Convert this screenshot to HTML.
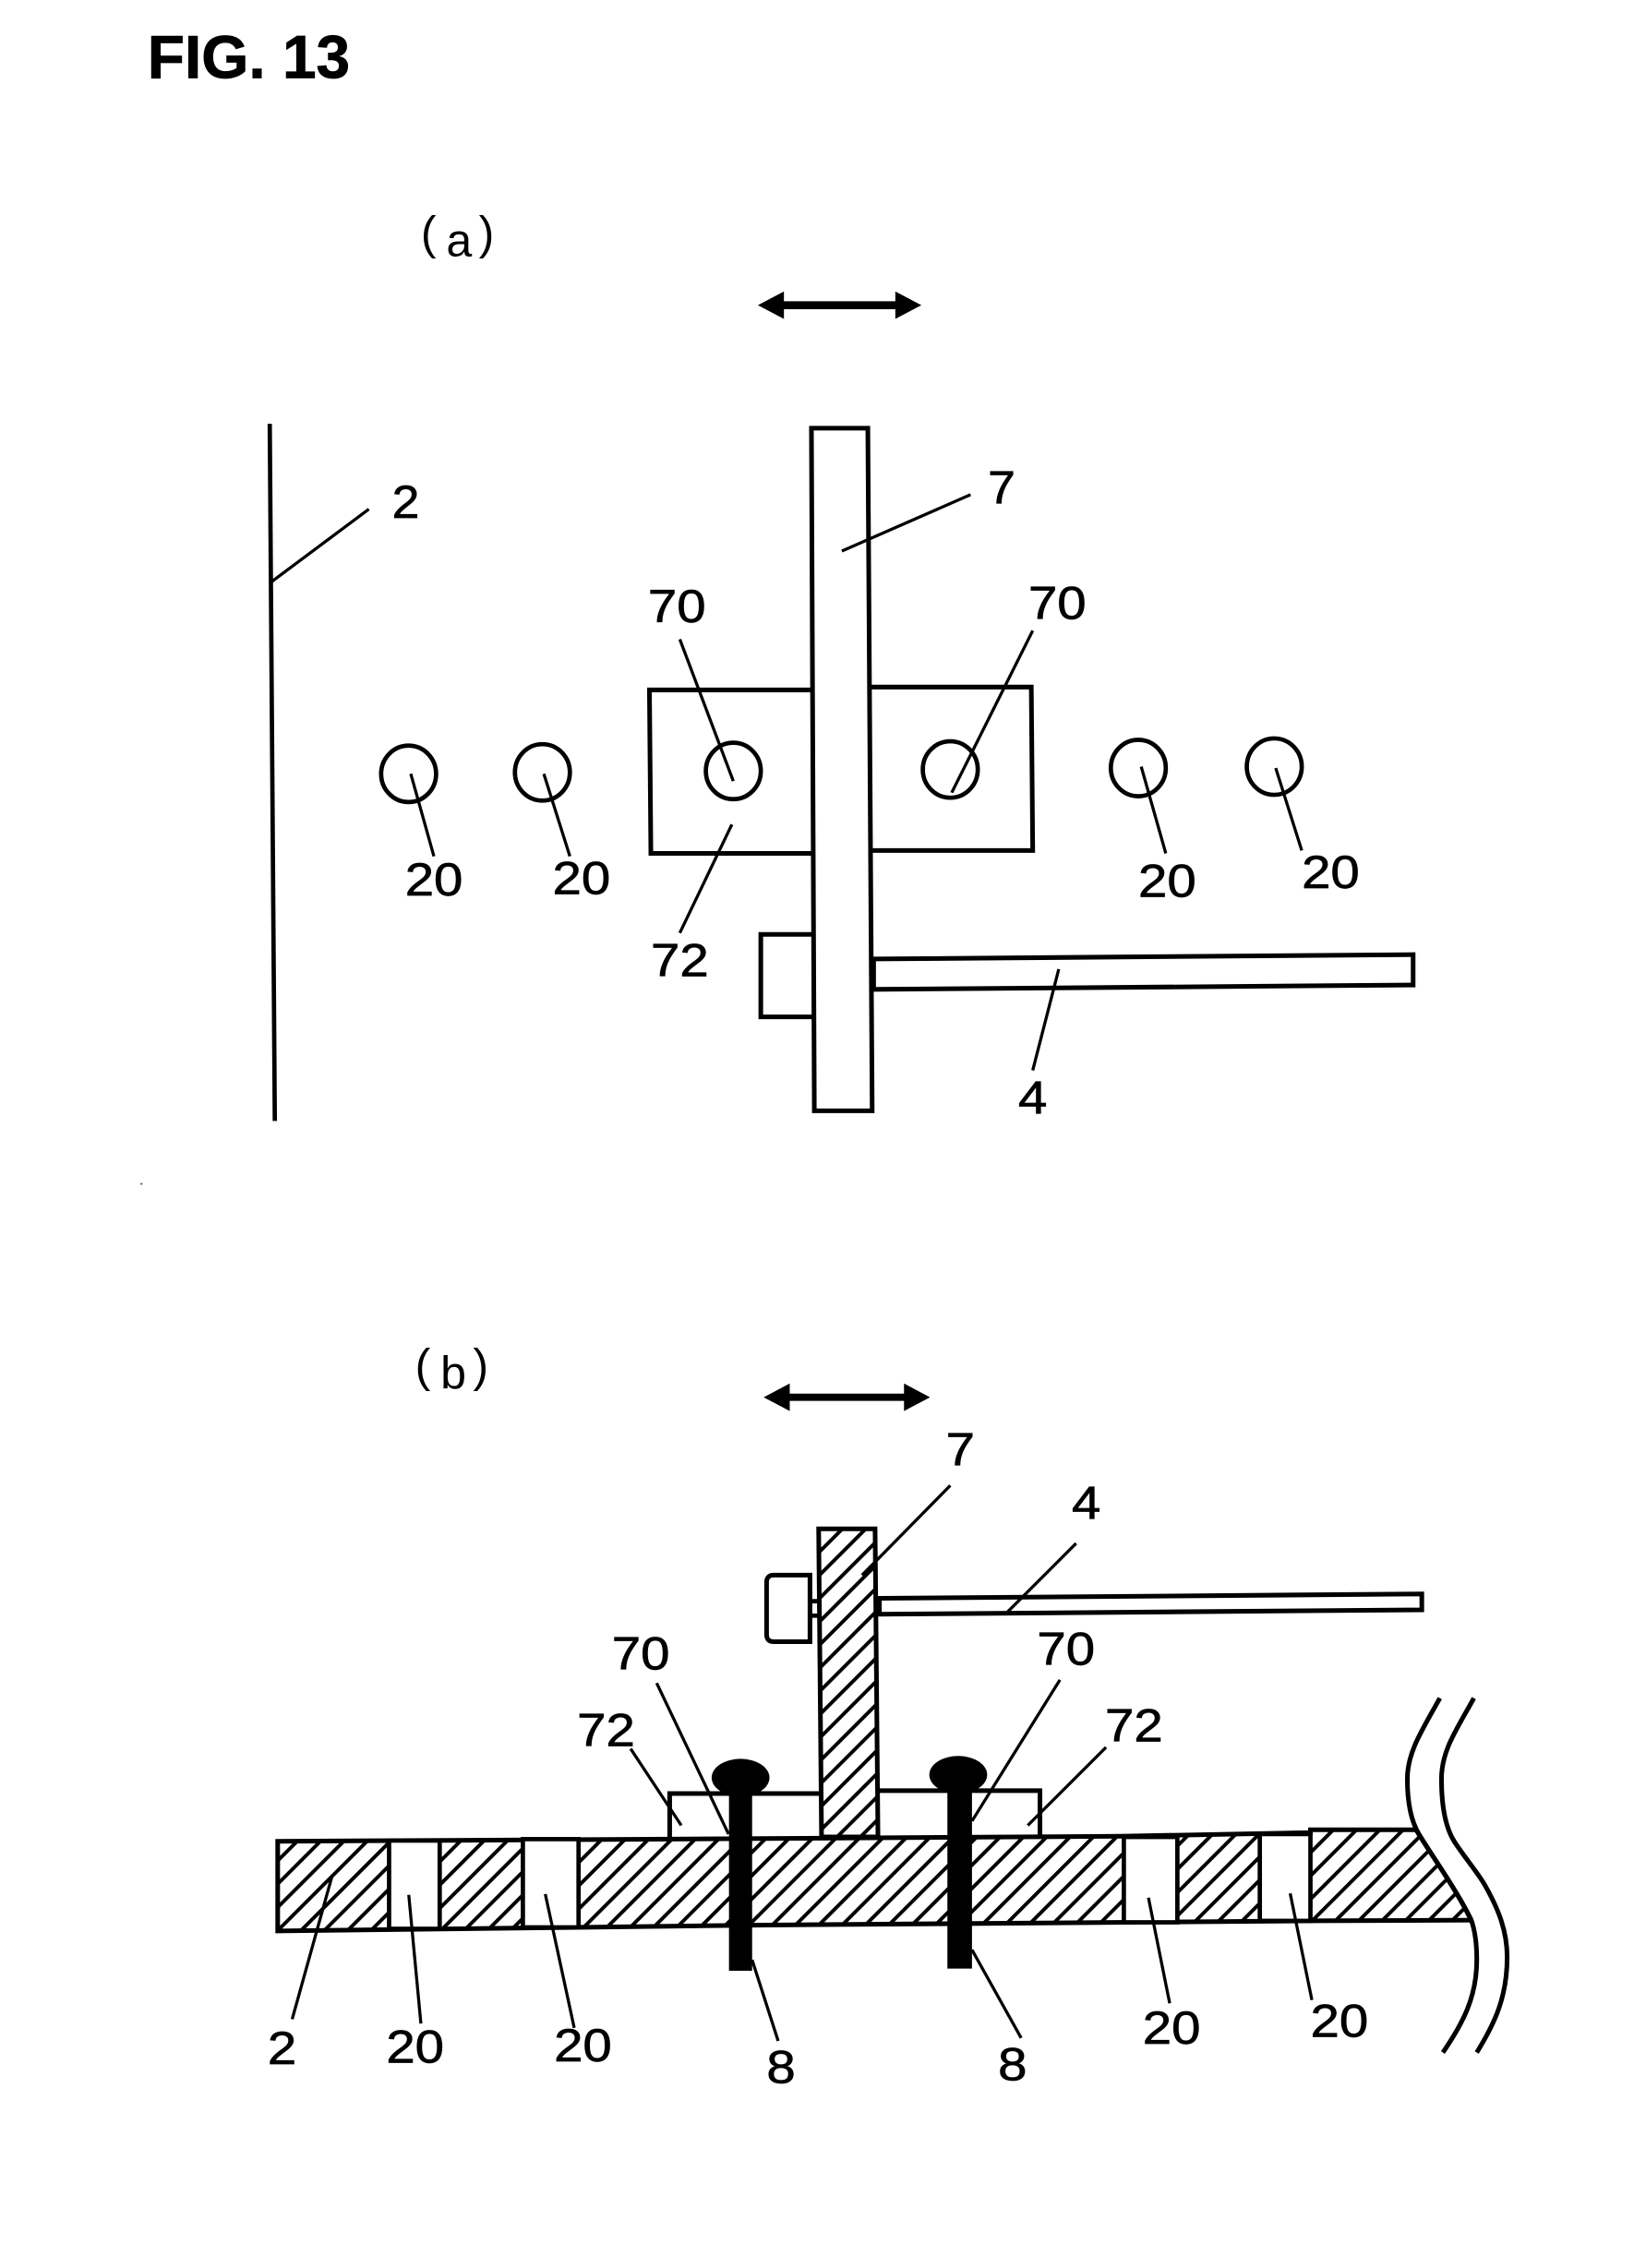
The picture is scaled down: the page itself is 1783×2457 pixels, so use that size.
<!DOCTYPE html>
<html><head><meta charset="utf-8"><style>
html,body{margin:0;padding:0;background:#fff}
svg{display:block}
text{font-family:"Liberation Sans",sans-serif;fill:#000}
.n{font-size:32px;stroke:#000;stroke-width:.45}
.l{stroke:#000;stroke-width:2.1;fill:none}
.s{stroke:#000;stroke-width:3.2;fill:#fff}
.h{stroke:#000;stroke-width:3.2;fill:url(#hatch)}
.o{stroke:#000;stroke-width:3;fill:#fff}
.wv{fill:none;stroke:#000;stroke-width:3.2}
</style></head><body>
<svg xmlns="http://www.w3.org/2000/svg" width="1783" height="2457" viewBox="0 0 1138 1568" preserveAspectRatio="none">
<defs>
<pattern id="hatch" width="11.385" height="11.385" patternUnits="userSpaceOnUse" patternTransform="rotate(45) translate(8.11 0)">
<rect width="11.385" height="11.385" fill="#fff"/>
<rect x="0" y="0" width="2.500" height="11.385" fill="#000"/>
</pattern>
</defs>
<rect width="1138" height="1568" fill="#fff"/>
<text x="102" y="54" font-size="42" font-weight="bold" textLength="140" lengthAdjust="spacingAndGlyphs" stroke="#000" stroke-width=".5">FIG. 13</text>

<!-- (a) -->
<text font-size="32"><tspan x="291" y="172">(</tspan><tspan x="308.500" y="177">a</tspan><tspan x="331" y="172">)</tspan></text>
<line x1="540" y1="211" x2="622" y2="211" stroke="#000" stroke-width="5.500"/>
<polygon points="524,211 542,201.500 542,220.500" fill="#000"/>
<polygon points="637,211 619,201.500 619,220.500" fill="#000"/>

<line x1="186.500" y1="293" x2="190" y2="775" stroke="#000" stroke-width="3"/>
<line class="l" x1="188" y1="402" x2="255" y2="352"/>

<path class="s" d="M562,477 L449,477 L450,590 L562,590"/>
<path class="s" d="M602,475 L713,475 L714,588 L603,588"/>
<path class="s" d="M562,646 L526,646 L526,703 L563,703"/>
<polygon class="s" points="604,663 977,660 977,681 604,684"/>
<polygon class="s" points="561,296 600,296 603,768 563,768"/>

<g fill="none" stroke="#000" stroke-width="3">
<ellipse cx="282.500" cy="535" rx="19" ry="19.500"/>
<ellipse cx="375" cy="534" rx="19" ry="19.500"/>
<ellipse cx="507" cy="533" rx="19" ry="19.500"/>
<ellipse cx="657" cy="532" rx="19" ry="19.500"/>
<ellipse cx="787" cy="531" rx="19" ry="19.500"/>
<ellipse cx="881" cy="530" rx="19" ry="19.500"/>
</g>
<line class="l" x1="284" y1="535" x2="300" y2="592"/>
<line class="l" x1="376" y1="535" x2="394" y2="592"/>
<line class="l" x1="789" y1="530" x2="806" y2="590"/>
<line class="l" x1="882" y1="531" x2="900" y2="588"/>
<line class="l" x1="470" y1="442" x2="507" y2="540"/>
<line class="l" x1="714" y1="436" x2="658" y2="548"/>
<line class="l" x1="506" y1="570" x2="470" y2="645"/>
<line class="l" x1="582" y1="381" x2="671" y2="342"/>
<line class="l" x1="732" y1="670" x2="714" y2="740"/>

<text class="n" x="271" y="358" textLength="19" lengthAdjust="spacingAndGlyphs">2</text>
<text class="n" x="683" y="348" textLength="19" lengthAdjust="spacingAndGlyphs">7</text>
<text class="n" x="448" y="430" textLength="40" lengthAdjust="spacingAndGlyphs">70</text>
<text class="n" x="711" y="428" textLength="40" lengthAdjust="spacingAndGlyphs">70</text>
<text class="n" x="280" y="619" textLength="40" lengthAdjust="spacingAndGlyphs">20</text>
<text class="n" x="382" y="618" textLength="40" lengthAdjust="spacingAndGlyphs">20</text>
<text class="n" x="787" y="620" textLength="40" lengthAdjust="spacingAndGlyphs">20</text>
<text class="n" x="900" y="614" textLength="40" lengthAdjust="spacingAndGlyphs">20</text>
<text class="n" x="450" y="675" textLength="40" lengthAdjust="spacingAndGlyphs">72</text>
<text class="n" x="704" y="770" textLength="20" lengthAdjust="spacingAndGlyphs">4</text>

<rect x="97" y="818" width="1.500" height="1" fill="#555"/>

<!-- (b) -->
<text font-size="32"><tspan x="287" y="955">(</tspan><tspan x="304.500" y="960">b</tspan><tspan x="327" y="955">)</tspan></text>
<line x1="544" y1="966" x2="627" y2="966" stroke="#000" stroke-width="5"/>
<polygon points="528,966 546,956.500 546,975.500" fill="#000"/>
<polygon points="643,966 625,956.500 625,975.500" fill="#000"/>

<!-- plate -->
<path class="h" d="M192,1273 L463,1271.500 L775,1269.500 L906,1267 L906,1265 L979,1265 C988,1280 1008,1308 1017,1327.500 L906,1328 L520,1331 L192,1335 Z"/>
<rect class="o" x="269" y="1272.500" width="35" height="61"/>
<rect class="o" x="361.500" y="1271.500" width="38.500" height="61"/>
<rect class="o" x="777" y="1270" width="37" height="59"/>
<rect class="o" x="871" y="1268" width="35" height="60"/>

<!-- box 72 -->
<path d="M463,1270 V1240 H568 M608,1238 H719 V1270" fill="none" stroke="#000" stroke-width="3.200"/>

<!-- member 7 -->
<polygon class="h" points="566,1057 605,1057 607,1270 568,1270"/>
<path class="s" d="M560,1089 H535 Q530,1089 530,1094 V1130 Q530,1135 535,1135 H560 Z"/>
<path d="M560,1107 H567 M560,1117 H567" stroke="#000" stroke-width="3" fill="none"/>
<polygon class="s" points="608,1105 983,1102 983,1113 608,1116"/>

<!-- screws -->
<rect x="504" y="1235" width="16" height="127.500" fill="#000"/>
<rect x="655" y="1235" width="17" height="126" fill="#000"/>
<ellipse cx="512" cy="1229" rx="20" ry="13" fill="#000"/>
<ellipse cx="662.500" cy="1227" rx="20" ry="13" fill="#000"/>

<!-- wave break -->
<path class="wv" d="M995.500,1174 C982,1198 973,1212 973,1230 C973,1245 975,1258 981,1268 C988,1280 1008,1308 1017,1327 C1020,1335 1021,1345 1021,1355 C1021,1380 1012,1398 997.600,1419"/>
<path class="wv" d="M1019,1174 C1007,1196 996.600,1210 996.600,1230 C996.600,1250 1000,1265 1006,1274 C1014,1286 1022,1295 1027,1304 C1036,1320 1042,1335 1042,1353 C1042,1380 1034,1398 1021,1419"/>

<!-- leaders -->
<line class="l" x1="657" y1="1027" x2="596" y2="1089"/>
<line class="l" x1="744" y1="1067" x2="696" y2="1115"/>
<line class="l" x1="454" y1="1163.600" x2="503.700" y2="1268"/>
<line class="l" x1="732.800" y1="1161.400" x2="672" y2="1259"/>
<line class="l" x1="436" y1="1209" x2="471" y2="1262"/>
<line class="l" x1="764.700" y1="1208" x2="710.600" y2="1262"/>
<line class="l" x1="229.700" y1="1296.600" x2="202" y2="1396"/>
<line class="l" x1="282.600" y1="1310" x2="291" y2="1399"/>
<line class="l" x1="377" y1="1309.500" x2="397" y2="1402"/>
<line class="l" x1="520" y1="1355" x2="538" y2="1411"/>
<line class="l" x1="672" y1="1348" x2="706" y2="1409"/>
<line class="l" x1="794" y1="1312" x2="808.700" y2="1385"/>
<line class="l" x1="892" y1="1309" x2="907" y2="1382.700"/>

<text class="n" x="654" y="1013" textLength="20" lengthAdjust="spacingAndGlyphs">7</text>
<text class="n" x="741" y="1050" textLength="20" lengthAdjust="spacingAndGlyphs">4</text>
<text class="n" x="423" y="1154" textLength="40" lengthAdjust="spacingAndGlyphs">70</text>
<text class="n" x="717" y="1151" textLength="40" lengthAdjust="spacingAndGlyphs">70</text>
<text class="n" x="399" y="1207" textLength="40" lengthAdjust="spacingAndGlyphs">72</text>
<text class="n" x="764" y="1204" textLength="40" lengthAdjust="spacingAndGlyphs">72</text>
<text class="n" x="185" y="1427" textLength="20" lengthAdjust="spacingAndGlyphs">2</text>
<text class="n" x="267" y="1426" textLength="40" lengthAdjust="spacingAndGlyphs">20</text>
<text class="n" x="383" y="1425" textLength="40" lengthAdjust="spacingAndGlyphs">20</text>
<text class="n" x="530" y="1440" textLength="20" lengthAdjust="spacingAndGlyphs">8</text>
<text class="n" x="690" y="1438" textLength="20" lengthAdjust="spacingAndGlyphs">8</text>
<text class="n" x="790" y="1413" textLength="40" lengthAdjust="spacingAndGlyphs">20</text>
<text class="n" x="906" y="1408" textLength="40" lengthAdjust="spacingAndGlyphs">20</text>
</svg>
</body></html>
